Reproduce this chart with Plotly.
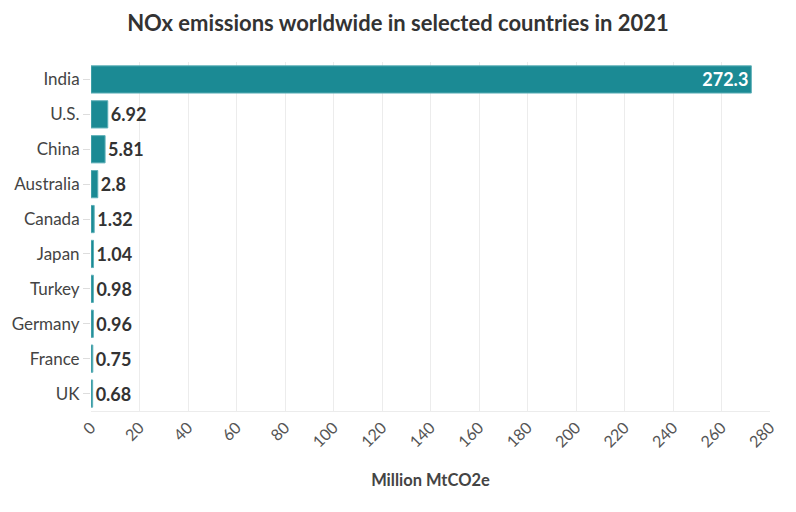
import plotly.graph_objects as go

countries = ["India", "U.S.", "China", "Australia", "Canada", "Japan", "Turkey", "Germany", "France", "UK"]
emissions = [272.3, 6.92, 5.81, 2.8, 1.32, 1.04, 0.98, 0.96, 0.75, 0.68]
labels = ["272.3", "6.92", "5.81", "2.8", "1.32", "1.04", "0.98", "0.96", "0.75", "0.68"]
tick_vals = list(range(0, 281, 20))

FONT = "Lato"

fig = go.Figure()

# bars, India label sits inside, the rest outside
fig.add_trace(go.Bar(
    x=emissions,
    y=countries,
    orientation="h",
    text=labels,
    textposition=["inside"] + ["outside"] * (len(countries) - 1),
    insidetextanchor="end",
    constraintext="none",
    textfont=dict(family=FONT, size=18, color=["white"] + ["#333333"] * (len(countries) - 1), weight="bold"),
    marker=dict(color="#1b8a94", line=dict(color="#5fb0b8", width=1)),
    cliponaxis=False,
    hoverinfo="x+y",
))

fig.update_layout(
    width=796,
    height=512,
    paper_bgcolor="white",
    plot_bgcolor="white",
    margin=dict(l=91, r=26, t=62, b=101),
    bargap=0.22,
    showlegend=False,
    title=dict(
        text="<b>NOx emissions worldwide in selected countries in 2021</b>",
        x=0.5, xanchor="center", y=0.955, yanchor="middle",
        font=dict(family=FONT, size=22, color="#333333"),
    ),
    font=dict(family=FONT, color="#444444"),
)

fig.update_xaxes(
    range=[0, 280],
    tickvals=tick_vals,
    tickangle=-45,
    tickfont=dict(family=FONT, size=16, color="#555555"),
    showgrid=True,
    gridcolor="#ececec",
    zeroline=False,
    showline=True,
    linecolor="#ececec",
    automargin=False,
    title=dict(text="<b>Million MtCO2e</b>", font=dict(family=FONT, size=16.5, color="#444444"), standoff=24),
)

fig.update_yaxes(
    autorange="reversed",
    tickfont=dict(family=FONT, size=17, color="#444444"),
    ticks="outside",
    ticklen=7,
    tickcolor="#dddddd",
    showline=False,
    automargin=False,
)

# page body has a default margin, drop it so the figure fills the window
fig.write_html("out.html", config={"displayModeBar": False},
               post_script="document.body.style.margin='0';")
